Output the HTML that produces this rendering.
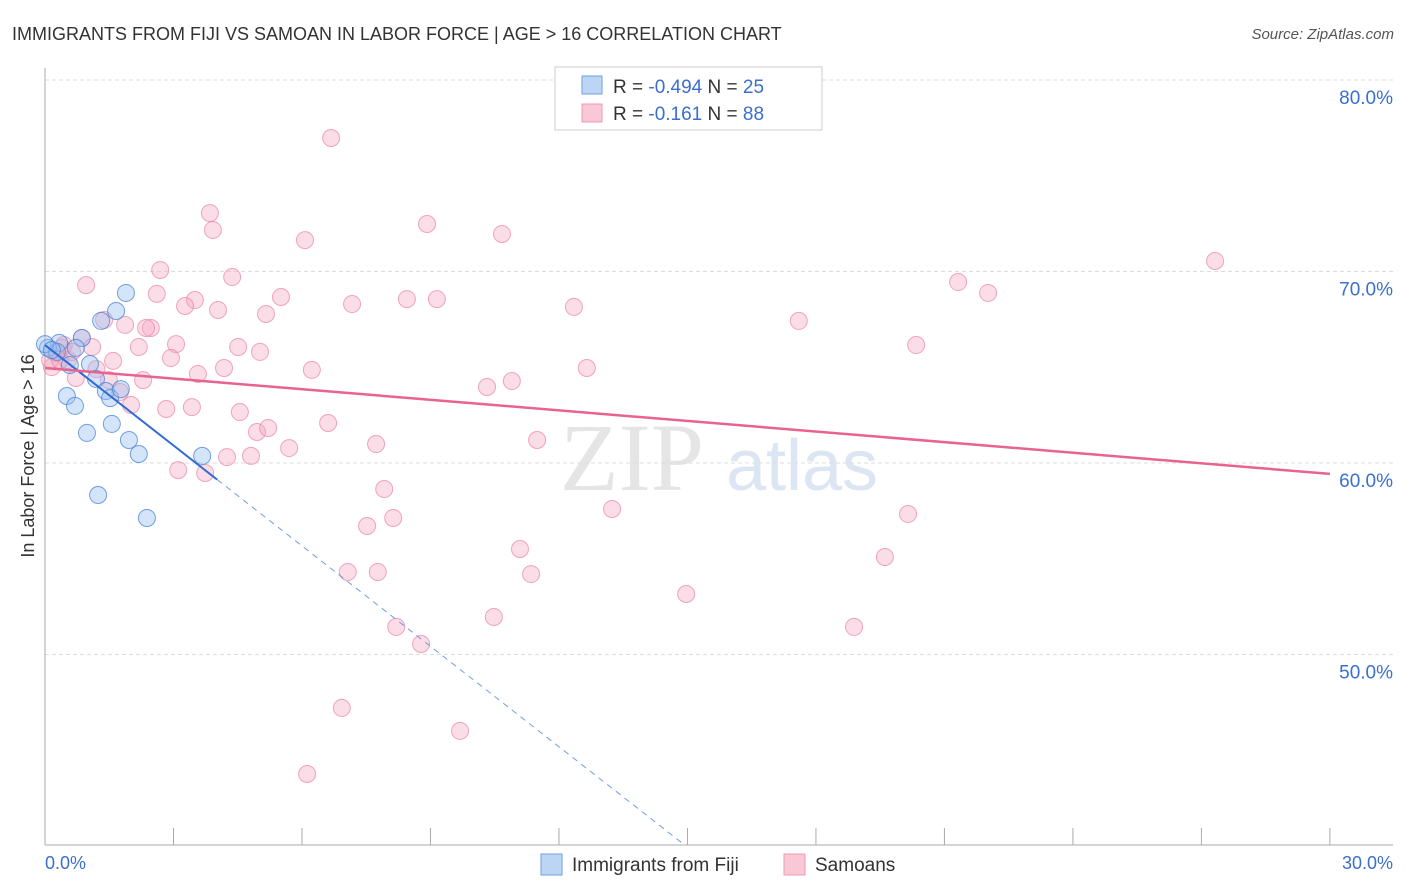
<!DOCTYPE html>
<html><head><meta charset="utf-8"><style>
body{margin:0;background:#fff;font-family:"Liberation Sans",sans-serif;}
svg{display:block}
</style></head><body>
<svg width="1406" height="892" xmlns="http://www.w3.org/2000/svg">
<text x="12" y="40" font-size="18" fill="#333">IMMIGRANTS FROM FIJI VS SAMOAN IN LABOR FORCE | AGE &gt; 16 CORRELATION CHART</text>
<text x="1394" y="39" font-size="15" fill="#555" font-style="italic" text-anchor="end">Source: ZipAtlas.com</text>
<text x="632" y="490" font-size="96" fill="#e5e5e5" font-family="Liberation Serif,serif" text-anchor="middle">ZIP</text>
<text x="802" y="490" font-size="72" fill="#dce6f3" text-anchor="middle">atlas</text>
<g id="grid"></g>
<line x1="45" y1="68" x2="45" y2="845" stroke="#aaa"/>
<line x1="45" y1="845" x2="1393" y2="845" stroke="#aaa"/>
<g id="xticks"></g>
<text x="34" y="456" font-size="18" fill="#333" text-anchor="middle" transform="rotate(-90 34 456)">In Labor Force | Age &gt; 16</text>
<text x="45" y="869" font-size="18" fill="#3a6fd0">0.0%</text>
<text x="1393" y="869" font-size="18" fill="#3a6fd0" text-anchor="end">30.0%</text>
<g id="pts"></g>
<g id="lines"></g>
<g>
<rect x="555" y="67" width="267" height="63" fill="#fff" stroke="#ccc"/>
<rect x="582" y="76" width="20" height="18" fill="#bcd5f5" stroke="#6f9ee0"/>
<rect x="582" y="104" width="20" height="18" fill="#f9c8d6" stroke="#ee9ab2"/>
<text x="613" y="93" font-size="19" fill="#333">R = <tspan fill="#3a6fd0">-0.494</tspan>   N = <tspan fill="#3a6fd0">25</tspan></text>
<text x="613" y="120" font-size="19" fill="#333">R =  <tspan fill="#3a6fd0">-0.161</tspan>   N = <tspan fill="#3a6fd0">88</tspan></text>
</g>
<g><rect x="541" y="854" width="21" height="21" fill="#bcd5f5" stroke="#6f9ee0"/><text x="572" y="871" font-size="19" fill="#333">Immigrants from Fiji</text></g>
<g><rect x="784" y="854" width="21" height="21" fill="#f9c8d6" stroke="#ee9ab2"/><text x="815" y="871" font-size="19" fill="#333">Samoans</text></g>
</svg>
<script>
const yTicks=[80,70,60,50];
const yTickLabels=["80.0%","70.0%","60.0%","50.0%"];
const xTicks=[0,3,6,9,12,15,18,21,24,27,30];
const pinkX=[14.01,6.68,3.85,3.92,8.92,10.67,6.07,27.32,2.69,4.37,0.96,21.32,22.02,2.61,5.51,3.50,3.27,8.45,9.15,7.17,4.04,12.35,5.16,1.38,1.87,2.47,2.36,17.60,0.86,2.19,3.06,4.51,5.02,20.34,1.59,2.94,4.18,6.23,12.65,3.57,0.72,2.29,10.90,10.32,1.49,1.75,2.01,2.83,3.43,4.55,6.61,4.95,5.21,7.73,11.49,5.70,4.25,4.81,3.11,3.74,7.92,13.24,20.15,7.52,8.13,11.09,7.07,7.77,11.35,19.61,14.97,10.48,8.20,18.89,8.78,6.93,9.69,6.12,0.16,0.26,0.40,0.54,1.10,0.44,0.12,0.35,0.63,1.2];
const pinkY=[78.17,76.97,73.05,72.17,72.48,71.96,71.64,70.55,70.08,69.71,69.29,69.45,68.88,68.83,68.67,68.51,68.20,68.56,68.56,68.30,67.99,68.15,67.78,67.47,67.21,67.05,67.05,67.42,66.53,66.06,66.21,66.06,65.80,66.16,65.33,65.48,64.96,64.86,64.96,64.65,64.44,64.33,64.28,63.97,64.33,63.71,63.03,62.82,62.92,62.66,62.09,61.62,61.83,60.99,61.20,60.78,60.31,60.37,59.63,59.48,58.64,57.60,57.34,56.71,57.13,55.51,54.31,54.31,54.20,55.09,53.16,51.96,51.44,51.44,50.55,47.21,46.01,43.76,65.01,65.74,66.01,65.38,66.06,66.16,65.38,65.38,65.80,64.9];
const blueX=[1.89,1.66,1.31,0.86,0.33,0.07,0.28,0.72,1.05,1.19,0.58,0.51,0.70,1.42,1.52,1.77,0.98,1.56,1.96,2.19,3.67,1.24,2.38,0,0.16];
const blueY=[68.88,67.94,67.42,66.53,66.27,66.01,65.80,66.01,65.17,64.39,65.12,63.50,62.98,63.76,63.39,63.86,61.57,62.04,61.20,60.47,60.37,58.33,57.13,66.21,65.90];
const blueTrend=[66.16,-1.748];   // intercept, slope
const pinkTrend=[64.96,-0.1843];
const X=v=>45+v*42.83, Y=v=>80+(80-v)*19.15;
const NS="http://www.w3.org/2000/svg";
function mk(t,a,p){const e=document.createElementNS(NS,t);for(const k in a)e.setAttribute(k,a[k]);p.appendChild(e);return e;}
const grid=document.getElementById('grid');
yTicks.forEach((t,i)=>{
 const l=mk('line',{x1:45,x2:1393,y1:Y(t),y2:Y(t),stroke:'#ddd','stroke-dasharray':'4,3'},grid);
 
 
 const tx=mk('text',{x:1393,y:Y(t)+24,'font-size':19,fill:'#3a6fd0','text-anchor':'end'},grid);
 tx.textContent=yTickLabels[i];
 
 
});
const xt=document.getElementById('xticks');
xTicks.forEach(t=>{const l=mk('line',{x1:X(t),x2:X(t),y1:828,y2:845,stroke:'#aaa'},xt);
 
 });
const pts=document.getElementById('pts');
pinkX.forEach((x,i)=>{const c=mk('circle',{cx:X(x),cy:Y(pinkY[i]),r:8.5,fill:'rgba(246,170,195,0.4)',stroke:'rgba(235,130,165,0.7)','stroke-width':1},pts);
 
 });
blueX.forEach((x,i)=>{const c=mk('circle',{cx:X(x),cy:Y(blueY[i]),r:8.5,fill:'rgba(150,190,240,0.4)',stroke:'rgba(70,130,215,0.75)','stroke-width':1},pts);
 
 });
const ln=document.getElementById('lines');
const bx1=4.02, bx2=14.94;
let a=mk('line',{x1:X(0),y1:Y(blueTrend[0]),x2:X(bx1),y2:Y(blueTrend[0]+blueTrend[1]*bx1),stroke:'#2f6ad6','stroke-width':2},ln);


a=mk('line',{x1:X(bx1),y1:Y(blueTrend[0]+blueTrend[1]*bx1),x2:X(bx2),y2:Y(blueTrend[0]+blueTrend[1]*bx2),stroke:'#6f9ee0','stroke-width':1,'stroke-dasharray':'6,5'},ln);


a=mk('line',{x1:X(0),y1:Y(pinkTrend[0]),x2:X(30),y2:Y(pinkTrend[0]+pinkTrend[1]*30),stroke:'#e8638e','stroke-width':2.5},ln);


</script>
</body></html>
